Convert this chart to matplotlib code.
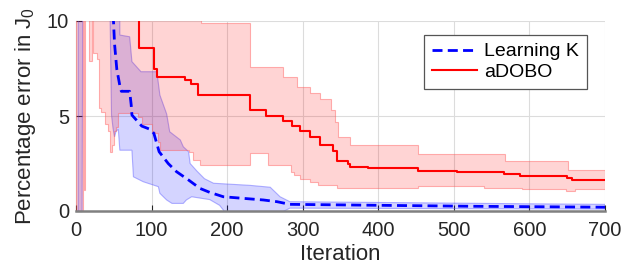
import matplotlib
matplotlib.use("Agg")
import matplotlib.pyplot as plt

plt.rcParams['font.family'] = ['Liberation Sans', 'DejaVu Sans']
plt.rcParams['mathtext.fontset'] = 'custom'
plt.rcParams['mathtext.rm'] = 'Liberation Sans'
plt.rcParams['mathtext.it'] = 'Liberation Sans'

# ---------------- data ----------------
x_ticks = [0, 100, 200, 300, 400, 500, 600, 700]
y_ticks = [0, 5, 10]
series_names = ["Learning K", "aDOBO"]

# aDOBO mean (step function, breakpoints)
red_mean_it = [0, 83, 103, 107, 144, 152, 161, 230, 252, 274, 286, 296, 310, 323, 340, 345,
               360, 363, 387, 452, 504, 566, 588, 650, 656]
red_mean = [15, 8.56, 7.5, 7.07, 6.9, 6.7, 6.1, 5.32, 5.0, 4.74, 4.5, 4.2, 3.91, 3.5, 3.15, 2.62,
            2.45, 2.33, 2.25, 2.12, 2.07, 1.95, 1.84, 1.72, 1.63]
# aDOBO band upper / lower (step functions)
red_up_it = [0, 165, 230, 274, 292, 310, 323, 338, 343, 347, 362, 453, 568, 651]
red_up = [12, 9.92, 7.6, 7.07, 6.54, 6.2, 5.9, 5.3, 4.7, 3.91, 3.45, 3.0, 2.65, 2.16]
red_lo_it = [0, 9, 11, 12, 17, 21, 23, 28, 30, 33, 38, 43, 45, 48, 50, 53, 56, 82, 87, 100,
             104, 109, 111, 149, 155, 164, 230, 254, 284, 288, 296, 310, 320, 345, 453, 540,
             590, 649, 660]
red_lo = [-1, 10.5, 1.1, 10.5, 7.9, 10.5, 8.3, 8.0, 5.4, 5.2, 4.6, 4.2, 3.1, 3.5, 4.2, 4.4,
          5.14, 4.96, 4.6, 4.17, 4.09, 3.65, 3.2, 3.12, 2.68, 2.42, 3.04, 2.4, 2.07, 1.89, 1.7,
          1.55, 1.37, 1.19, 1.3, 1.2, 1.16, 1.07, 1.14]

# Learning K mean (polyline)
blue_it = [0, 48, 49, 51, 54, 58, 60, 71, 73, 74, 87, 98, 103, 110, 122, 133, 149, 164, 177,
           195, 248, 266, 283, 400, 520, 700]
blue_mean = [15, 15, 10.5, 8.8, 7.46, 6.6, 6.3, 6.3, 5.6, 5.05, 4.47, 4.3, 4.09, 3.12, 2.5,
             2.07, 1.63, 1.19, 0.98, 0.75, 0.58, 0.49, 0.35, 0.3, 0.25, 0.2]
# Learning K band (polylines)
blue_up_it = [3, 8, 9, 45, 57, 58, 71, 74, 86, 107, 111, 120, 124, 138, 142, 149, 151, 160,
              170, 182, 230, 257, 270, 283, 398, 596, 700]
blue_up = [20, 20, 12, 20, 20, 9.26, 9.17, 7.86, 7.33, 7.33, 6.1, 5.1, 4.17, 3.74, 3.38, 3.12,
           2.5, 2.1, 1.7, 1.46, 1.35, 1.25, 0.75, 0.49, 0.45, 0.38, 0.35]
blue_lo_it = [3, 8, 9, 45, 47, 49, 51, 53, 56, 58, 74, 76, 89, 109, 111, 120, 127, 142, 146,
              153, 177, 190, 195, 200, 261, 283, 700]
blue_lo = [-1, -1, 12, 10.5, 5.05, 4.35, 3.9, 4.2, 4.3, 3.2, 3.2, 1.8, 1.54, 1.28, 0.93, 0.58,
           0.4, 0.4, 0.58, 0.75, 0.6, 0.3, 0.05, -0.3, -0.3, 0.15, 0.1]

X_END = 700


def steps(x, y, xend):
    xs, ys = [], []
    for i in range(len(x)):
        x1 = x[i + 1] if i + 1 < len(x) else xend
        xs += [x[i], x1]
        ys += [y[i], y[i]]
    return xs, ys


fig = plt.figure(figsize=(6.24, 2.77), dpi=100)
ax = fig.add_axes([76 / 624, 1 - 211 / 277, (605 - 76) / 624, (211 - 21) / 277])

# Learning K band
bx = list(blue_up_it) + list(blue_lo_it)[::-1]
by = list(blue_up) + list(blue_lo)[::-1]
ax.fill(bx, by, facecolor=(0, 0, 1, 0.17), edgecolor=(0.35, 0.35, 1, 0.45), lw=0.8, zorder=1)

# aDOBO band
ux, uy = steps(red_up_it, red_up, X_END)
lx, ly = steps(red_lo_it, red_lo, X_END)
ax.fill(ux + lx[::-1], uy + ly[::-1], facecolor=(1, 0, 0, 0.17),
        edgecolor=(1, 0.35, 0.35, 0.45), lw=0.8, zorder=1.1)

# mean lines
ax.plot(blue_it, blue_mean, color=(0, 0, 1), lw=2.0, ls=(0, (3.6, 1.9)),
        label=series_names[0], zorder=3)
mx, my = steps(red_mean_it, red_mean, X_END)
ax.plot(mx, my, color=(1, 0, 0), lw=1.5, label=series_names[1], zorder=3)

ax.set_xlim(0, 700)
ax.set_ylim(0, 10)
ax.set_xticks(x_ticks)
ax.set_yticks(y_ticks)
ax.grid(True, color='#dcdcdc', lw=0.8)
ax.set_axisbelow(True)

for s in ['top', 'right']:
    ax.spines[s].set_visible(False)
ax.spines['left'].set_color('#999999')
ax.spines['left'].set_zorder(0.5)
ax.spines['bottom'].set_color('#808080')
ax.spines['bottom'].set_linewidth(1.8)
ax.spines['bottom'].set_zorder(5)

ax.tick_params(direction='in', length=4, width=0.8, color='#262626',
               labelsize=14.5, labelcolor='#262626')
ax.tick_params(axis='x', pad=7)
ax.tick_params(axis='y', pad=5)

ax.set_xlabel('Iteration', fontsize=16, color='#262626', labelpad=3)
ax.set_ylabel('Percentage error in J$_0$', fontsize=16, color='#262626', labelpad=6)

leg = ax.legend(loc='upper right', bbox_to_anchor=(587 / 624, 1 - 35 / 277),
                bbox_transform=fig.transFigure, borderaxespad=0, fontsize=14,
                handlelength=2.3, handletextpad=0.4, labelspacing=0.15,
                borderpad=0.4, fancybox=False, framealpha=1)
leg.get_frame().set_edgecolor('#555555')
leg.get_frame().set_linewidth(0.9)

fig.savefig('out.png', dpi=100)
